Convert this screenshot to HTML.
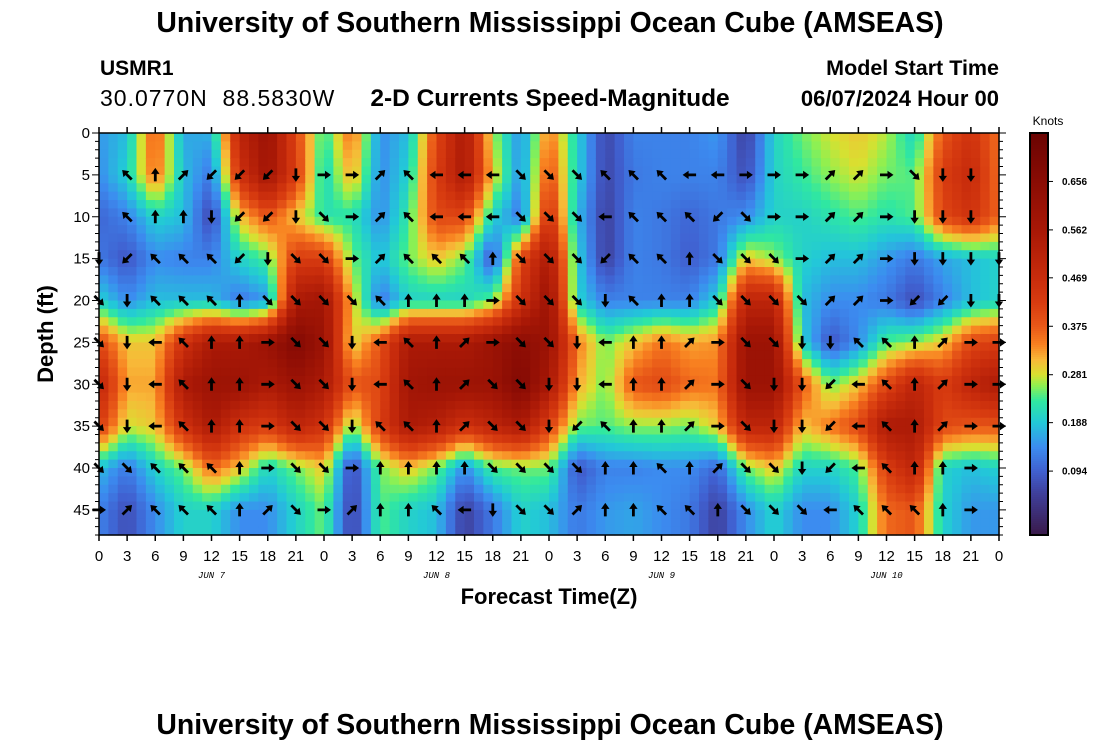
<!DOCTYPE html>
<html><head><meta charset="utf-8">
<style>
body{margin:0;background:#fff;width:1100px;height:750px;overflow:hidden;font-family:"Liberation Sans",Arial,sans-serif}
svg{position:absolute;left:0;top:0}
</style></head>
<body>
<svg id="chart" width="1100" height="750" xmlns="http://www.w3.org/2000/svg">
<text x="550" y="32" text-anchor="middle" font-size="28.4" font-weight="bold">University of Southern Mississippi Ocean Cube (AMSEAS)</text>
<text x="100" y="75" font-size="21" font-weight="bold">USMR1</text>
<text x="100" y="106" font-size="23" letter-spacing="1" style="white-space:pre">30.0770N  88.5830W</text>
<text x="550" y="106" text-anchor="middle" font-size="24.5" font-weight="bold">2-D Currents Speed-Magnitude</text>
<text x="999" y="75" text-anchor="end" font-size="21.5" font-weight="bold">Model Start Time</text>
<text x="999" y="106" text-anchor="end" font-size="22" font-weight="bold">06/07/2024 Hour 00</text>
<g id="heat"></g>
<g id="arrows"></g>
<rect x="99" y="133" width="900" height="402" fill="none" stroke="#000" stroke-width="1.5"/>
<g id="axes"></g>
<text x="549" y="604" text-anchor="middle" font-size="22" font-weight="bold">Forecast Time(Z)</text>
<text transform="translate(53,334) rotate(-90)" text-anchor="middle" font-size="22" font-weight="bold">Depth (ft)</text>
<g id="cbar"></g>
<text x="1048" y="125" text-anchor="middle" font-size="12">Knots</text>
<text x="550" y="734" text-anchor="middle" font-size="28.4" font-weight="bold">University of Southern Mississippi Ocean Cube (AMSEAS)</text>
</svg>
<script>
const hours=[0,3,6,9,12,15,18,21,24,27,30,33,36,39,42,45,48,51,54,57,60,63,66,69,72,75,78,81,84,87,90,93,96];
const depths=[0,5,10,15,20,25,30,35,40,45];
const speed0=[0.15,0.18,0.38,0.16,0.17,0.5,0.6,0.4,0.22,0.36,0.14,0.18,0.4,0.55,0.27,0.14,0.35,0.2,0.06,0.13,0.13,0.13,0.15,0.05,0.2,0.25,0.28,0.3,0.27,0.2,0.38,0.45,0.35];
const speed5=[0.14,0.2,0.36,0.18,0.12,0.45,0.58,0.42,0.2,0.32,0.14,0.2,0.42,0.55,0.3,0.14,0.39,0.2,0.06,0.12,0.13,0.13,0.13,0.07,0.2,0.23,0.26,0.28,0.25,0.24,0.42,0.48,0.35];
const speed10=[0.1,0.13,0.2,0.18,0.06,0.3,0.38,0.3,0.22,0.22,0.14,0.23,0.4,0.4,0.2,0.12,0.45,0.18,0.05,0.13,0.12,0.1,0.12,0.14,0.2,0.2,0.22,0.24,0.22,0.24,0.4,0.45,0.36];
const speed15=[0.12,0.08,0.14,0.13,0.13,0.2,0.24,0.42,0.42,0.25,0.18,0.25,0.3,0.25,0.08,0.4,0.55,0.2,0.05,0.13,0.12,0.09,0.12,0.3,0.26,0.2,0.18,0.18,0.15,0.12,0.16,0.18,0.2];
const speed20=[0.2,0.14,0.18,0.18,0.18,0.12,0.15,0.55,0.58,0.3,0.12,0.2,0.2,0.2,0.25,0.45,0.6,0.2,0.13,0.13,0.13,0.13,0.2,0.5,0.5,0.18,0.14,0.14,0.12,0.07,0.13,0.18,0.2];
const speed25=[0.4,0.3,0.3,0.45,0.55,0.55,0.6,0.68,0.6,0.28,0.38,0.55,0.55,0.55,0.6,0.65,0.6,0.35,0.25,0.3,0.35,0.32,0.33,0.6,0.6,0.2,0.08,0.14,0.24,0.26,0.3,0.4,0.42];
const speed30=[0.5,0.32,0.32,0.55,0.6,0.6,0.55,0.6,0.55,0.38,0.4,0.58,0.6,0.6,0.6,0.68,0.56,0.32,0.25,0.38,0.4,0.36,0.35,0.6,0.6,0.38,0.25,0.3,0.4,0.5,0.42,0.5,0.55];
const speed35=[0.42,0.28,0.3,0.45,0.55,0.45,0.42,0.5,0.45,0.25,0.42,0.55,0.52,0.45,0.5,0.55,0.41,0.25,0.24,0.26,0.26,0.25,0.3,0.5,0.5,0.3,0.35,0.4,0.55,0.55,0.4,0.38,0.38];
const speed40=[0.18,0.12,0.2,0.25,0.36,0.3,0.2,0.25,0.3,0.06,0.25,0.3,0.25,0.14,0.24,0.25,0.25,0.08,0.13,0.13,0.14,0.14,0.1,0.25,0.3,0.2,0.2,0.24,0.42,0.5,0.2,0.18,0.2];
const speed45=[0.13,0.07,0.14,0.2,0.2,0.14,0.14,0.2,0.25,0.05,0.24,0.2,0.18,0.05,0.12,0.2,0.18,0.12,0.15,0.16,0.14,0.12,0.05,0.14,0.2,0.14,0.14,0.2,0.36,0.38,0.2,0.15,0.15];
const speeds=[speed0,speed5,speed10,speed15,speed20,speed25,speed30,speed35,speed40,speed45];
// arrow directions: 0=N,1=NE,2=E,3=SE,4=S,5=SW,6=W,7=NW,-=none
const dir5 ="-7015554221766633377766222112344-";
const dir10="-7004554321766633367775322112444-";
const dir15="457775433217770333577033321124444";
const dir20="347770333370002333470033331125544";
const dir25="346700233467012334600123344770122";
const dir30="346700233467013344600123445670122";
const dir35="346700233477013345700123445670122";
const dir40="33777023320000333300701334567002-";
const dir45="21777013210076433100770333677702-";
const dirRows=[dir5,dir10,dir15,dir20,dir25,dir30,dir35,dir40,dir45];
const dirDepths=[5,10,15,20,25,30,35,40,45];
const cbTicks=[0.094,0.188,0.281,0.375,0.469,0.562,0.656];
const dayLabels=["JUN 7","JUN 8","JUN 9","JUN 10"];
const dayHours=[12,36,60,84];

const X0=99,X1=999,Y0=133,Y1=535,HMAX=96,DMAX=48;
const xs=h=>X0+(X1-X0)*h/HMAX;
const ys=d=>Y0+(Y1-Y0)*d/DMAX;
const VMIN=-0.03,VMAX=0.75;
const stops=[[-0.03,[58,26,74]],[0.05,[63,63,154]],[0.094,[64,96,208]],[0.14,[60,140,240]],[0.188,[34,200,216]],[0.23,[48,232,160]],[0.26,[144,240,80]],[0.281,[216,224,48]],[0.31,[248,184,56]],[0.34,[248,128,32]],[0.375,[232,88,24]],[0.42,[216,60,16]],[0.469,[200,44,12]],[0.56,[168,24,6]],[0.656,[138,12,4]],[0.75,[106,4,2]]];
function color(v){
  if(v<=stops[0][0])return `rgb(${stops[0][1]})`;
  for(let i=1;i<stops.length;i++){if(v<=stops[i][0]){const a=stops[i-1],b=stops[i],t=(v-a[0])/(b[0]-a[0]);
    return `rgb(${a[1].map((c,k)=>Math.round(c+(b[1][k]-c)*t)).join(',')})`;}}
  return `rgb(${stops[stops.length-1][1]})`;
}
function interp(h,d){
  let i=Math.min(Math.floor(h/3),hours.length-2),ti=(h-hours[i])/3;
  let dd=Math.min(d,45),j=Math.min(Math.floor(dd/5),depths.length-2),tj=(dd-depths[j])/5;
  ti=Math.max(0,Math.min(1,ti));tj=Math.max(0,Math.min(1,tj));
  const a=speeds[j][i],b=speeds[j][i+1],c=speeds[j+1][i],e=speeds[j+1][i+1];
  return (a*(1-ti)+b*ti)*(1-tj)+(c*(1-ti)+e*ti)*tj;
}
const NS="http://www.w3.org/2000/svg";
function mk(tag,attrs,parent){const el=document.createElementNS(NS,tag);for(const k in attrs)el.setAttribute(k,attrs[k]);parent.appendChild(el);return el;}
const heat=document.getElementById('heat');
for(let i=0;i<HMAX;i++){for(let j=0;j<DMAX;j++){
  const v=interp(i+0.5,j+0.5);
  const r=mk('rect',{x:xs(i).toFixed(2),y:ys(j).toFixed(2),width:(xs(i+1)-xs(i)+0.6).toFixed(2),height:(ys(j+1)-ys(j)+0.6).toFixed(2),fill:color(v)},heat);
  
  
}}
const arrows=document.getElementById('arrows');
dirRows.forEach((row,ri)=>{for(let k=0;k<hours.length;k++){const c=row[k];if(c==='-'||c===undefined)continue;
  const ang=parseInt(c)*45;
  const p=mk('polygon',{points:"-1.4,6.5 1.4,6.5 1.4,-1 4.2,-1 0,-7 -4.2,-1 -1.4,-1",fill:"#000",transform:`translate(${xs(hours[k]).toFixed(1)},${ys(dirDepths[ri]).toFixed(1)}) rotate(${ang})`},arrows);
  
  
}});
const axes=document.getElementById('axes');
for(let d=0;d<=DMAX;d++){
  const y=ys(d),L=d%5===0?7:4;
  mk('line',{x1:X0-L,x2:X0,y1:y,y2:y,stroke:"#000","stroke-width":1},axes);
  mk('line',{x1:X1,x2:X1+L,y1:y,y2:y,stroke:"#000","stroke-width":1},axes);
  if(d%5===0&&d<=45){const t=mk('text',{x:X0-9,y:y+5,"text-anchor":"end","font-size":15},axes);t.textContent=d;
    
    }
}
hours.forEach(h=>{const x=xs(h);
  mk('line',{x1:x,x2:x,y1:Y0-6,y2:Y0,stroke:"#000","stroke-width":1.5},axes);
  mk('line',{x1:x,x2:x,y1:Y1,y2:Y1+6,stroke:"#000","stroke-width":1.5},axes);
  const t=mk('text',{x:x,y:561,"text-anchor":"middle","font-size":15},axes);t.textContent=h%24;
  
  
});
dayLabels.forEach((s,i)=>{const t=mk('text',{x:xs(dayHours[i]),y:578,"text-anchor":"middle","font-size":9,"font-style":"italic","font-family":"Liberation Mono, monospace"},axes);t.textContent=s;
  
  });
const cbar=document.getElementById('cbar');
const CB0=133,CB1=535,cy=v=>CB1-(CB1-CB0)*(v-VMIN)/(VMAX-VMIN);
for(let y=CB0;y<CB1;y+=2){const v=VMIN+(VMAX-VMIN)*(CB1-y-1)/(CB1-CB0);
  mk('rect',{x:1030,y:y,width:18,height:2.5,fill:color(v)},cbar);}
mk('rect',{x:1030,y:CB0,width:18,height:CB1-CB0,fill:"none",stroke:"#000","stroke-width":2},cbar);
cbTicks.forEach(v=>{const y=cy(v);
  mk('line',{x1:1048,x2:1053,y1:y,y2:y,stroke:"#000"},cbar);
  const t=mk('text',{x:1062,y:y+3.5,"font-size":10,"font-weight":"bold"},cbar);t.textContent=v.toFixed(3);
  
  });
</script>
</body></html>
